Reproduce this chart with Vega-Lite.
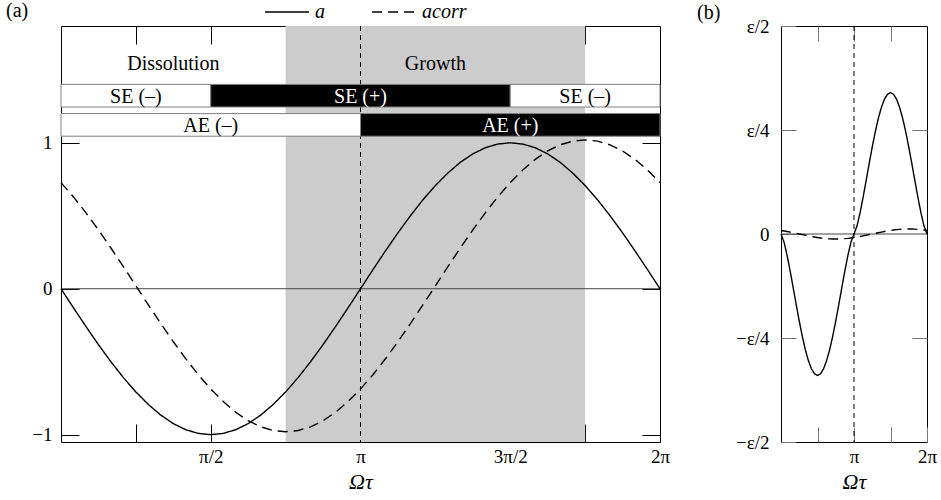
{
  "$schema": "https://vega.github.io/schema/vega-lite/v6.json",
  "background": "white",
  "padding": {"left": 5, "top": -12, "right": 5, "bottom": 5},
  "datasets": {
    "curvesA": [
      {"t": 0, "a": 0, "acorr": 0.727},
      {"t": 0.0417, "a": -0.131, "acorr": 0.629},
      {"t": 0.0833, "a": -0.259, "acorr": 0.52},
      {"t": 0.125, "a": -0.383, "acorr": 0.403},
      {"t": 0.1667, "a": -0.5, "acorr": 0.279},
      {"t": 0.2083, "a": -0.609, "acorr": 0.151},
      {"t": 0.25, "a": -0.707, "acorr": 0.02},
      {"t": 0.2917, "a": -0.793, "acorr": -0.111},
      {"t": 0.3333, "a": -0.866, "acorr": -0.239},
      {"t": 0.375, "a": -0.924, "acorr": -0.363},
      {"t": 0.4167, "a": -0.966, "acorr": -0.48},
      {"t": 0.4583, "a": -0.991, "acorr": -0.589},
      {"t": 0.5, "a": -1, "acorr": -0.687},
      {"t": 0.5417, "a": -0.991, "acorr": -0.773},
      {"t": 0.5833, "a": -0.966, "acorr": -0.846},
      {"t": 0.625, "a": -0.924, "acorr": -0.904},
      {"t": 0.6667, "a": -0.866, "acorr": -0.946},
      {"t": 0.7083, "a": -0.793, "acorr": -0.971},
      {"t": 0.75, "a": -0.707, "acorr": -0.98},
      {"t": 0.7917, "a": -0.609, "acorr": -0.971},
      {"t": 0.8333, "a": -0.5, "acorr": -0.946},
      {"t": 0.875, "a": -0.383, "acorr": -0.904},
      {"t": 0.9167, "a": -0.259, "acorr": -0.846},
      {"t": 0.9583, "a": -0.131, "acorr": -0.773},
      {"t": 1, "a": 0, "acorr": -0.687},
      {"t": 1.0417, "a": 0.131, "acorr": -0.589},
      {"t": 1.0833, "a": 0.259, "acorr": -0.48},
      {"t": 1.125, "a": 0.383, "acorr": -0.363},
      {"t": 1.1667, "a": 0.5, "acorr": -0.239},
      {"t": 1.2083, "a": 0.609, "acorr": -0.111},
      {"t": 1.25, "a": 0.707, "acorr": 0.02},
      {"t": 1.2917, "a": 0.793, "acorr": 0.151},
      {"t": 1.3333, "a": 0.866, "acorr": 0.279},
      {"t": 1.375, "a": 0.924, "acorr": 0.403},
      {"t": 1.4167, "a": 0.966, "acorr": 0.52},
      {"t": 1.4583, "a": 0.991, "acorr": 0.629},
      {"t": 1.5, "a": 1, "acorr": 0.727},
      {"t": 1.5417, "a": 0.991, "acorr": 0.813},
      {"t": 1.5833, "a": 0.966, "acorr": 0.886},
      {"t": 1.625, "a": 0.924, "acorr": 0.944},
      {"t": 1.6667, "a": 0.866, "acorr": 0.986},
      {"t": 1.7083, "a": 0.793, "acorr": 1.011},
      {"t": 1.75, "a": 0.707, "acorr": 1.02},
      {"t": 1.7917, "a": 0.609, "acorr": 1.011},
      {"t": 1.8333, "a": 0.5, "acorr": 0.986},
      {"t": 1.875, "a": 0.383, "acorr": 0.944},
      {"t": 1.9167, "a": 0.259, "acorr": 0.886},
      {"t": 1.9583, "a": 0.131, "acorr": 0.813},
      {"t": 2, "a": 0, "acorr": 0.727}
    ],
    "curvesB": [
      {"t": 0, "a": 0, "acorr": 0.0085},
      {"t": 0.0417, "a": -0.0197, "acorr": 0.0073},
      {"t": 0.0833, "a": -0.0512, "acorr": 0.006},
      {"t": 0.125, "a": -0.0886, "acorr": 0.0046},
      {"t": 0.1667, "a": -0.1288, "acorr": 0.0031},
      {"t": 0.2083, "a": -0.1697, "acorr": 0.0016},
      {"t": 0.25, "a": -0.2093, "acorr": 0},
      {"t": 0.2917, "a": -0.2459, "acorr": -0.0016},
      {"t": 0.3333, "a": -0.278, "acorr": -0.0031},
      {"t": 0.375, "a": -0.3043, "acorr": -0.0046},
      {"t": 0.4167, "a": -0.3239, "acorr": -0.006},
      {"t": 0.4583, "a": -0.3359, "acorr": -0.0073},
      {"t": 0.5, "a": -0.34, "acorr": -0.0085},
      {"t": 0.5417, "a": -0.3359, "acorr": -0.0095},
      {"t": 0.5833, "a": -0.3239, "acorr": -0.0104},
      {"t": 0.625, "a": -0.3043, "acorr": -0.0111},
      {"t": 0.6667, "a": -0.278, "acorr": -0.0116},
      {"t": 0.7083, "a": -0.2459, "acorr": -0.0119},
      {"t": 0.75, "a": -0.2093, "acorr": -0.012},
      {"t": 0.7917, "a": -0.1697, "acorr": -0.0119},
      {"t": 0.8333, "a": -0.1288, "acorr": -0.0116},
      {"t": 0.875, "a": -0.0886, "acorr": -0.0111},
      {"t": 0.9167, "a": -0.0512, "acorr": -0.0104},
      {"t": 0.9583, "a": -0.0197, "acorr": -0.0095},
      {"t": 1, "a": 0, "acorr": -0.0085},
      {"t": 1.0417, "a": 0.0197, "acorr": -0.0073},
      {"t": 1.0833, "a": 0.0512, "acorr": -0.006},
      {"t": 1.125, "a": 0.0886, "acorr": -0.0046},
      {"t": 1.1667, "a": 0.1288, "acorr": -0.0031},
      {"t": 1.2083, "a": 0.1697, "acorr": -0.0016},
      {"t": 1.25, "a": 0.2093, "acorr": 0},
      {"t": 1.2917, "a": 0.2459, "acorr": 0.0016},
      {"t": 1.3333, "a": 0.278, "acorr": 0.0031},
      {"t": 1.375, "a": 0.3043, "acorr": 0.0046},
      {"t": 1.4167, "a": 0.3239, "acorr": 0.006},
      {"t": 1.4583, "a": 0.3359, "acorr": 0.0073},
      {"t": 1.5, "a": 0.34, "acorr": 0.0085},
      {"t": 1.5417, "a": 0.3359, "acorr": 0.0095},
      {"t": 1.5833, "a": 0.3239, "acorr": 0.0104},
      {"t": 1.625, "a": 0.3043, "acorr": 0.0111},
      {"t": 1.6667, "a": 0.278, "acorr": 0.0116},
      {"t": 1.7083, "a": 0.2459, "acorr": 0.0119},
      {"t": 1.75, "a": 0.2093, "acorr": 0.012},
      {"t": 1.7917, "a": 0.1697, "acorr": 0.0119},
      {"t": 1.8333, "a": 0.1288, "acorr": 0.0116},
      {"t": 1.875, "a": 0.0886, "acorr": 0.0111},
      {"t": 1.9167, "a": 0.0512, "acorr": 0.0104},
      {"t": 1.9583, "a": 0.0197, "acorr": 0.0095},
      {"t": 2, "a": 0, "acorr": 0.0085}
    ],
    "bands": [
      {"x1": 0, "x2": 0.5, "y1": 1.245, "y2": 1.4, "xm": 0.25, "ym": 1.3225, "s": "-", "lab": "SE (–)"},
      {"x1": 0.5, "x2": 1.5, "y1": 1.245, "y2": 1.4, "xm": 1, "ym": 1.3225, "s": "+", "lab": "SE (+)"},
      {"x1": 1.5, "x2": 2, "y1": 1.245, "y2": 1.4, "xm": 1.75, "ym": 1.3225, "s": "-", "lab": "SE (–)"},
      {"x1": 0, "x2": 1, "y1": 1.045, "y2": 1.2, "xm": 0.5, "ym": 1.1225, "s": "-", "lab": "AE (–)"},
      {"x1": 1, "x2": 2, "y1": 1.045, "y2": 1.2, "xm": 1.5, "ym": 1.1225, "s": "+", "lab": "AE (+)"}
    ],
    "regions": [
      {"x": 0.375, "y": 1.54, "lab": "Dissolution"},
      {"x": 1.25, "y": 1.54, "lab": "Growth"}
    ],
    "shade": [{"x1": 0.75, "x2": 1.75}],
    "vline": [{"x": 1}],
    "hline": [{"y": 0}]
  },
  "spacing": 121,
  "bounds": "flush",
  "resolve": {"scale": {"strokeDash": "independent"}},
  "hconcat": [
    {
      "width": 599,
      "height": 416,
      "title": {"text": "(a)", "anchor": "start", "frame": "group", "dx": -55, "offset": -48, "baseline": "alphabetic", "fontSize": 20, "font": "Liberation Serif", "fontWeight": "normal", "color": "black"},
      "resolve": {"axis": {"x": "independent", "y": "independent"}},
      "layer": [
        {
          "data": {"name": "shade"},
          "mark": {"type": "rect", "color": "#cccccc"},
          "encoding": {
            "x": {"field": "x1", "type": "quantitative", "scale": {"domain": [0, 2], "nice": false, "zero": false}, "axis": null},
            "x2": {"field": "x2"}
          }
        },
        {
          "data": {"name": "vline"},
          "mark": {"type": "rule", "color": "black", "strokeWidth": 1, "strokeDash": [5, 4]},
          "encoding": {
            "x": {"field": "x", "type": "quantitative", "scale": {"domain": [0, 2], "nice": false, "zero": false}, "axis": null}
          }
        },
        {
          "data": {"name": "hline"},
          "mark": {"type": "rule", "color": "#444444", "strokeWidth": 1},
          "encoding": {
            "y": {"field": "y", "type": "quantitative", "scale": {"domain": [-1.05, 1.8], "nice": false, "zero": false}, "axis": null}
          }
        },
        {
          "data": {"name": "bands"},
          "mark": {"type": "rect", "stroke": "#808080", "strokeWidth": 1},
          "encoding": {
            "x": {"field": "x1", "type": "quantitative", "scale": {"domain": [0, 2], "nice": false, "zero": false},
                  "axis": {"orient": "top", "values": [0.25, 0.5, 0.75, 1, 1.25, 1.5, 1.75], "labels": false, "tickSize": -18, "title": null, "minExtent": 0, "maxExtent": 0}},
            "x2": {"field": "x2"},
            "y": {"field": "y1", "type": "quantitative", "scale": {"domain": [-1.05, 1.8], "nice": false, "zero": false},
                  "axis": {"orient": "right", "values": [-1, 0, 1], "labels": false, "tickSize": -18, "title": null, "minExtent": 0, "maxExtent": 0}},
            "y2": {"field": "y2"},
            "fill": {"condition": {"test": "datum.s === '+'", "value": "black"}, "value": "white"}
          }
        },
        {
          "data": {"name": "bands"},
          "mark": {"type": "text", "fontSize": 20, "font": "Liberation Serif", "baseline": "middle", "align": "center", "dy": 1},
          "encoding": {
            "x": {"field": "xm", "type": "quantitative", "scale": {"domain": [0, 2], "nice": false, "zero": false}, "axis": null},
            "y": {"field": "ym", "type": "quantitative", "scale": {"domain": [-1.05, 1.8], "nice": false, "zero": false}, "axis": null},
            "text": {"field": "lab"},
            "color": {"condition": {"test": "datum.s === '+'", "value": "white"}, "value": "black"}
          }
        },
        {
          "data": {"name": "regions"},
          "mark": {"type": "text", "fontSize": 20, "font": "Liberation Serif", "baseline": "middle", "align": "center", "color": "black"},
          "encoding": {
            "x": {"field": "x", "type": "quantitative", "scale": {"domain": [0, 2], "nice": false, "zero": false}, "axis": null},
            "y": {"field": "y", "type": "quantitative", "scale": {"domain": [-1.05, 1.8], "nice": false, "zero": false}, "axis": null},
            "text": {"field": "lab"}
          }
        },
        {
          "data": {"name": "curvesA"},
          "transform": [{"fold": ["a", "acorr"], "as": ["s", "v"]}],
          "mark": {"type": "line", "color": "black", "strokeWidth": 1.4},
          "encoding": {
            "x": {"field": "t", "type": "quantitative", "scale": {"domain": [0, 2], "nice": false, "zero": false},
                  "axis": {"orient": "bottom", "values": [0.25, 0.5, 0.75, 1, 1.25, 1.5, 1.75, 2], "labelExpr": "datum.value == 0.5 ? 'π/2' : datum.value == 1 ? 'π' : datum.value == 1.5 ? '3π/2' : datum.value == 2 ? '2π' : ''", "tickSize": -18, "labelPadding": 23, "labelFont": "Liberation Serif", "labelFontSize": 19, "title": "Ωτ", "titlePadding": 5, "titleFont": "Liberation Serif", "titleFontSize": 22, "titleFontStyle": "italic"}},
            "y": {"field": "v", "type": "quantitative", "scale": {"domain": [-1.05, 1.8], "nice": false, "zero": false},
                  "axis": {"orient": "left", "values": [-1, 0, 1], "tickSize": -18, "labelPadding": 27, "labelFont": "Liberation Serif", "labelFontSize": 19, "title": null}},
            "strokeDash": {"field": "s", "type": "nominal",
              "scale": {"domain": ["a", "acorr"], "range": [[1, 0], [10, 6]]},
              "legend": {"orient": "none", "legendX": 203, "legendY": -37, "direction": "horizontal", "columns": 2, "title": null,
                         "symbolType": "stroke", "symbolSize": 1936, "symbolStrokeWidth": 1.3, "symbolStrokeColor": "black",
                         "labelFontSize": 20, "labelFontStyle": "italic", "labelFont": "Liberation Serif", "labelColor": "black",
                         "columnPadding": 44, "labelOffset": 5, "padding": 0}}
          }
        }
      ]
    },
    {
      "width": 146,
      "height": 416,
      "title": {"text": "(b)", "anchor": "start", "frame": "group", "dx": -84, "offset": -22, "baseline": "alphabetic", "fontSize": 20, "font": "Liberation Serif", "fontWeight": "normal", "color": "black"},
      "resolve": {"axis": {"x": "independent", "y": "independent"}},
      "layer": [
        {
          "data": {"name": "vline"},
          "mark": {"type": "rule", "color": "black", "strokeWidth": 1, "strokeDash": [5, 4]},
          "encoding": {
            "x": {"field": "x", "type": "quantitative", "scale": {"domain": [0, 2], "nice": false, "zero": false},
                  "axis": {"orient": "top", "values": [0.5, 1, 1.5], "labels": false, "tickSize": -15, "tickColor": "#777777", "title": null, "minExtent": 0, "maxExtent": 0}}
          }
        },
        {
          "data": {"name": "hline"},
          "mark": {"type": "rule", "color": "#444444", "strokeWidth": 1},
          "encoding": {
            "y": {"field": "y", "type": "quantitative", "scale": {"domain": [-0.5, 0.5], "nice": false, "zero": false},
                  "axis": {"orient": "right", "values": [-0.25, 0.25], "labels": false, "tickSize": -15, "tickColor": "#777777", "title": null, "minExtent": 0, "maxExtent": 0}}
          }
        },
        {
          "data": {"name": "curvesB"},
          "transform": [{"fold": ["a", "acorr"], "as": ["s", "v"]}],
          "mark": {"type": "line", "color": "black", "strokeWidth": 1.4},
          "encoding": {
            "x": {"field": "t", "type": "quantitative", "scale": {"domain": [0, 2], "nice": false, "zero": false},
                  "axis": {"orient": "bottom", "values": [0.5, 1, 1.5, 2], "labelExpr": "datum.value == 1 ? 'π' : datum.value == 2 ? '2π' : ''", "tickSize": -15, "tickColor": "#777777", "labelPadding": 20, "labelFont": "Liberation Serif", "labelFontSize": 19, "title": "Ωτ", "titlePadding": 5, "titleFont": "Liberation Serif", "titleFontSize": 22, "titleFontStyle": "italic"}},
            "y": {"field": "v", "type": "quantitative", "scale": {"domain": [-0.5, 0.5], "nice": false, "zero": false},
                  "axis": {"orient": "left", "values": [-0.5, -0.25, 0, 0.25, 0.5], "labelExpr": "datum.value == 0.5 ? 'ε/2' : datum.value == 0.25 ? 'ε/4' : datum.value == 0 ? '0' : datum.value == -0.25 ? '−ε/4' : '−ε/2'", "tickSize": -15, "tickColor": "#777777", "labelPadding": 27, "labelFont": "Liberation Serif", "labelFontSize": 19, "title": null}},
            "strokeDash": {"field": "s", "type": "nominal",
              "scale": {"domain": ["a", "acorr"], "range": [[1, 0], [10, 6]]},
              "legend": null}
          }
        }
      ]
    }
  ],
  "config": {
    "view": {"stroke": "black", "strokeWidth": 1},
    "font": "Liberation Serif",
    "axis": {
      "domain": false, "grid": false, "tickColor": "black", "tickWidth": 1,
      "labelFont": "Liberation Serif", "labelFontSize": 19, "labelColor": "black",
      "titleFont": "Liberation Serif", "titleFontSize": 22, "titleFontStyle": "italic", "titleFontWeight": "normal", "titleColor": "black",
      "labelFlush": false, "labelOverlap": false, "zindex": 1
    }
  }
}
